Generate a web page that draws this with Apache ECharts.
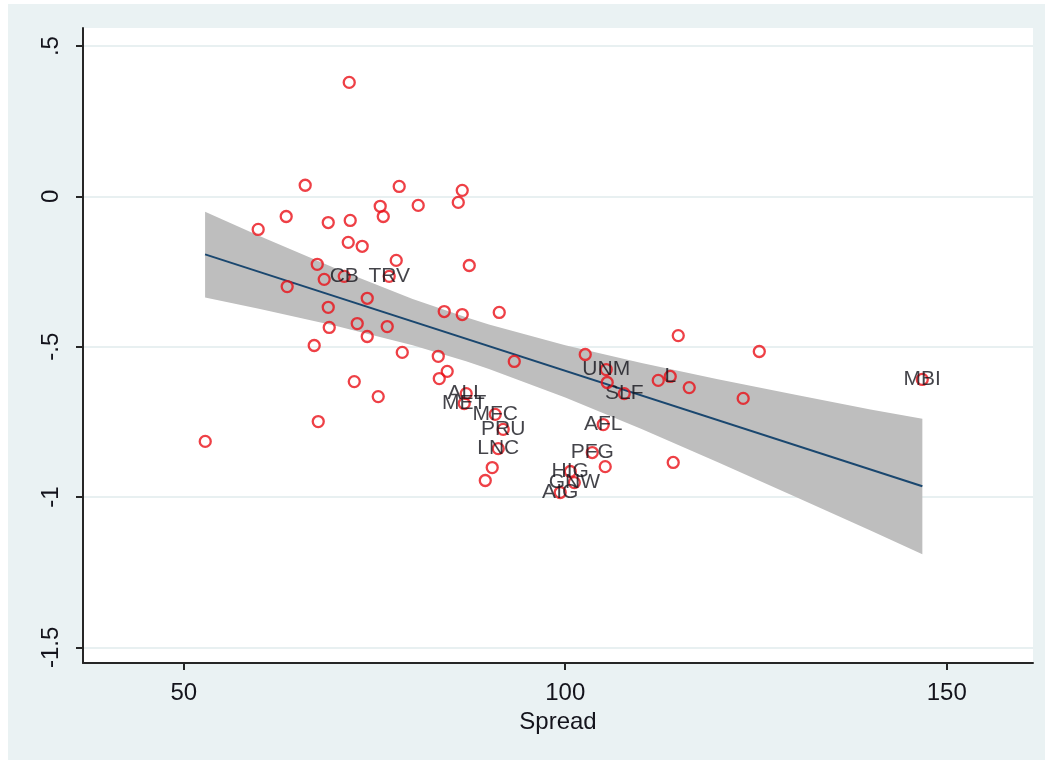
<!DOCTYPE html>
<html>
<head>
<meta charset="utf-8">
<script src="https://cdn.jsdelivr.net/npm/echarts@6/dist/echarts.min.js"></script>
<style>
  html, body { margin: 0; padding: 0; background: #ffffff; }
  #bg { position: absolute; left: 8px; top: 4px; width: 1037px; height: 756px; background: #eaf2f3; }
  #chart { position: absolute; left: 0; top: 0; width: 1045px; height: 763px; }
</style>
</head>
<body>
<div id="bg"></div>
<div id="chart"></div>
<script>
// Unlabeled observations (Spread, y)
const spreadX = [71.69, 65.92, 78.24, 86.50, 85.98, 80.73, 75.75, 76.15, 63.43, 71.82,
                 68.94, 59.76, 71.56, 73.39, 77.85, 87.42, 67.50, 68.41, 63.56, 74.05,
                 84.14, 91.35, 86.50, 68.94, 72.74, 69.07, 76.67, 74.05, 67.10, 78.64,
                 102.62, 83.36, 93.32, 84.53, 83.49, 72.35, 75.49, 67.63, 52.82, 114.81,
                 125.43, 112.19, 116.25, 123.32, 114.15, 105.24, 90.43, 89.52, 105.50];
const valueY = [0.379, 0.037, 0.033, 0.020, -0.020, -0.030, -0.033, -0.067, -0.067, -0.080,
                -0.087, -0.110, -0.153, -0.166, -0.213, -0.230, -0.226, -0.276, -0.300, -0.339,
                -0.383, -0.386, -0.393, -0.369, -0.423, -0.436, -0.433, -0.466, -0.496, -0.519,
                -0.526, -0.532, -0.549, -0.582, -0.606, -0.616, -0.666, -0.749, -0.815, -0.463,
                -0.516, -0.612, -0.636, -0.672, -0.885, -0.899, -0.902, -0.945, -0.619];

// Labeled observations
const tickers = ['CB', 'TRV', 'ALL', 'MET', 'MFC', 'PRU', 'LNC', 'UNM', 'SLF', 'L',
                 'AFL', 'PFG', 'HIG', 'GNW', 'AIG', 'MBI'];
const tickerX = [71.04, 76.93, 87.02, 86.76, 90.82, 91.87, 91.22, 105.37, 107.73, 113.76,
                 104.98, 103.54, 100.66, 101.19, 99.34, 146.79];
const tickerY = [-0.266, -0.266, -0.656, -0.689, -0.725, -0.775, -0.839, -0.576, -0.656, -0.599,
                 -0.759, -0.852, -0.915, -0.952, -0.985, -0.609];

// Fitted line and confidence band
const fitX = [52.8, 146.8];
const fitY = [-0.193, -0.964];
const bandX = [52.8, 60, 70, 80, 87, 90, 100, 110, 120, 130, 140, 146.8];
const bandUpper = [-0.051, -0.133, -0.241, -0.341, -0.402, -0.426, -0.495, -0.554, -0.608, -0.659, -0.709, -0.740];
const bandLower = [-0.336, -0.375, -0.431, -0.495, -0.548, -0.574, -0.669, -0.774, -0.884, -0.997, -1.111, -1.190];

// Ticks
const xTicks = [50, 100, 150];
const yTicks = [-1.5, -1, -0.5, 0, 0.5];
const yTickLabels = ['-1.5', '-1', '-.5', '0', '.5'];

const chart = echarts.init(document.getElementById('chart'), null, { renderer: 'canvas' });

const plainPts = spreadX.map((x, i) => [x, valueY[i]]);
const labeledPts = tickers.map((t, i) => ({ value: [tickerX[i], tickerY[i]], name: t }));
const fitPts = fitX.map((x, i) => [x, fitY[i]]);
const bandData = bandX.map((x, i) => [x, bandUpper[i], bandLower[i]]);

const labelFont = 'Liberation Sans, Arial, sans-serif';
const textColor = '#14141c';

chart.setOption({
  backgroundColor: 'transparent',
  animation: false,
  grid: {
    left: 83, top: 28, right: 12, bottom: 100,
    show: true, backgroundColor: '#ffffff', borderWidth: 0
  },
  xAxis: {
    type: 'value',
    min: 36.8, max: 161.3,
    name: 'Spread',
    nameLocation: 'middle',
    nameGap: 44,
    nameTextStyle: { fontFamily: labelFont, fontSize: 24, color: textColor },
    axisLine: { show: true, onZero: false, lineStyle: { color: '#262626', width: 2 } },
    axisTick: { show: true, length: 7, customValues: xTicks, lineStyle: { color: '#262626', width: 2 } },
    axisLabel: { customValues: xTicks, margin: 18, fontFamily: labelFont, fontSize: 24, color: textColor },
    splitLine: { show: false }
  },
  yAxis: {
    type: 'value',
    min: -1.552, max: 0.56,
    axisLine: { show: true, onZero: false, lineStyle: { color: '#262626', width: 2 } },
    axisTick: { show: true, length: 7, customValues: yTicks, lineStyle: { color: '#262626', width: 2 } },
    axisLabel: {
      customValues: yTicks,
      rotate: 90,
      margin: 20,
      fontFamily: labelFont, fontSize: 24, color: textColor,
      formatter: function (v) {
        const idx = yTicks.findIndex(t => Math.abs(t - v) < 1e-9);
        return idx >= 0 ? yTickLabels[idx] : '';
      }
    },
    splitLine: { show: true, lineStyle: { color: '#e8f0f1', width: 2 } }
  },
  series: [
    {
      type: 'custom',
      name: 'band',
      data: bandData,
      z: 1,
      silent: true,
      renderItem: function (params, api) {
        if (params.dataIndex !== 0) return null;
        const pts = [];
        for (let i = 0; i < bandData.length; i++) pts.push(api.coord([bandData[i][0], bandData[i][1]]));
        for (let i = bandData.length - 1; i >= 0; i--) pts.push(api.coord([bandData[i][0], bandData[i][2]]));
        return {
          type: 'polygon',
          shape: { points: pts },
          style: { fill: '#bebebe', stroke: 'none' }
        };
      },
      encode: { x: 0, y: [1, 2] }
    },
    {
      type: 'line',
      name: 'fit',
      data: fitPts,
      z: 2,
      symbol: 'none',
      lineStyle: { color: '#1a476f', width: 2 }
    },
    {
      type: 'scatter',
      name: 'labeled',
      data: labeledPts,
      z: 3,
      symbol: 'circle',
      symbolSize: 11,
      itemStyle: { color: 'rgba(255,255,255,0)', borderColor: '#ea1018', borderWidth: 2.3 },
      label: {
        show: true,
        position: 'inside',
        formatter: p => p.name,
        fontFamily: labelFont,
        fontSize: 21,
        color: textColor
      },
      labelLayout: { hideOverlap: false }
    },
    {
      type: 'scatter',
      name: 'obs',
      data: plainPts,
      z: 4,
      symbol: 'circle',
      symbolSize: 11,
      itemStyle: { color: 'rgba(255,255,255,0)', borderColor: '#ea1018', borderWidth: 2.3 }
    }
  ]
});
</script>
</body>
</html>
